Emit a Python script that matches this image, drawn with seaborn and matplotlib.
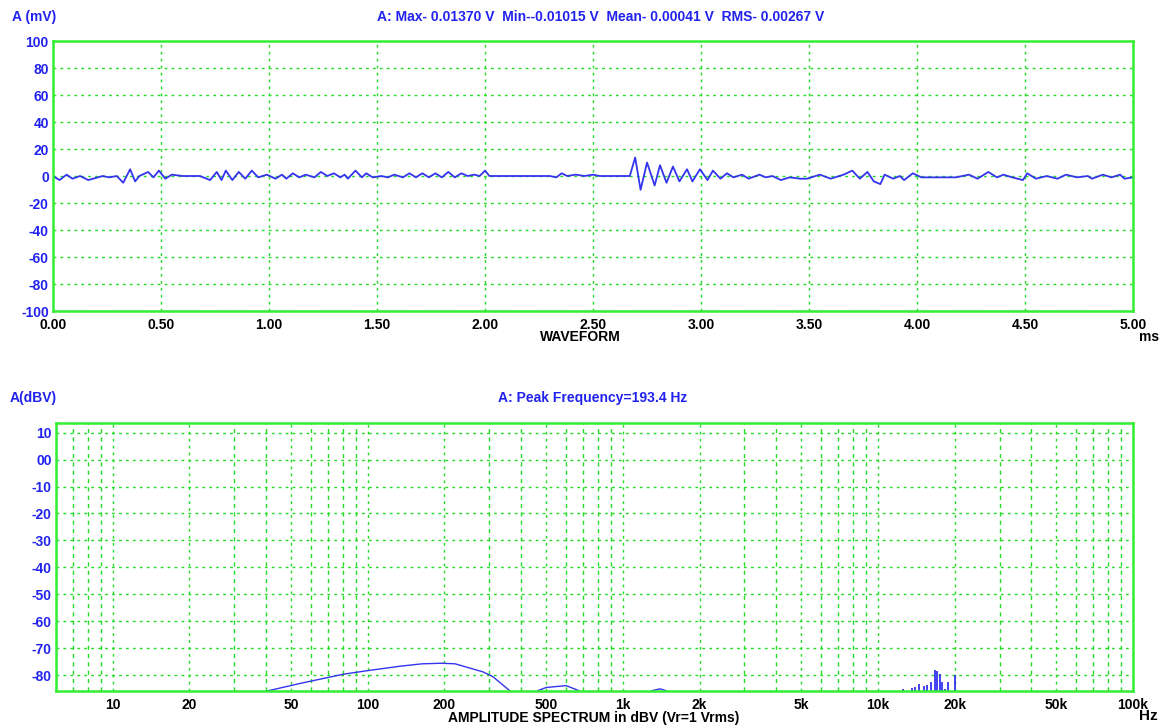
import numpy as np
import pandas as pd
import matplotlib
matplotlib.use("Agg")
from matplotlib import pyplot as plt
import seaborn as sns

# waveform (time in ms, amplitude in mV)
wave_t = [0.00, 0.03, 0.063, 0.09, 0.125, 0.163, 0.23, 0.26, 0.295, 0.325, 0.357, 0.38, 0.40,
          0.44, 0.465, 0.49, 0.52, 0.55, 0.60, 0.68, 0.727, 0.758, 0.78, 0.80, 0.83, 0.86,
          0.89, 0.92, 0.95, 0.99, 1.03, 1.06, 1.08, 1.11, 1.14, 1.17, 1.21, 1.24, 1.27,
          1.30, 1.33, 1.35, 1.365, 1.40, 1.43, 1.45, 1.48, 1.52, 1.55, 1.58, 1.62, 1.65,
          1.68, 1.71, 1.74, 1.77, 1.80, 1.83, 1.86, 1.89, 1.92, 1.95, 1.975, 2.00, 2.02,
          2.30, 2.33, 2.355, 2.38, 2.42, 2.46, 2.50, 2.53, 2.67, 2.695, 2.72, 2.75, 2.785,
          2.81, 2.84, 2.87, 2.90, 2.935, 2.96, 2.995, 3.03, 3.055, 3.09, 3.12, 3.15, 3.19,
          3.22, 3.27, 3.30, 3.33, 3.37, 3.41, 3.46, 3.49, 3.55, 3.60, 3.66, 3.70, 3.735,
          3.77, 3.80, 3.83, 3.85, 3.89, 3.92, 3.94, 3.98, 4.02, 4.10, 4.18, 4.24, 4.28,
          4.33, 4.37, 4.40, 4.44, 4.49, 4.51, 4.55, 4.60, 4.65, 4.69, 4.74, 4.79, 4.81,
          4.86, 4.90, 4.94, 4.96, 5.00]
wave_mv = [0, -3, 1, -2, 0, -3, 0, -1, 0, -5, 5, -4, 0,
           3, -1, 4, -2, 1, 0, 0, -3, 3, -3, 4, -3, 3,
           -2, 4, -1, 1, -2, 1, -2, 2, -1, 1, -1, 3, 0,
           2, -1, 1, -2, 4, -1, 2, -1, 0, -1, 1, -1, 2,
           -1, 2, -1, 2, -1, 3, -1, 2, 0, 1, 0, 4, 0,
           0, -1, 2, 0, 1, 0, 1, 0, 0, 13.7, -10.2, 10, -7,
           8, -5, 7, -4, 5, -4, 5, -3, 4, -2, 2, -1, 1,
           -2, 1, -1, 0, -3, -1, -2, -2, 1, -2, 1, 4, -2,
           3, -4, -6, 1, -2, 0, -3, 2, -1, -1, -1, 1, -2,
           3, -1, 1, -1, -3, 2, -2, 0, -2, 1, -1, 0, -2,
           1, -1, 1, -2, -1]

# amplitude spectrum (Hz, dBV)
spec_f = [38, 40.8, 54.3, 80, 99, 134, 164, 180, 193.4, 220, 283, 310, 339, 361, 370,
          455, 464, 501, 600, 674, 690, 1250, 1300, 1400, 1480, 1550]
spec_db = [-87, -85.8, -83.1, -79.7, -78.4, -76.7, -75.8, -75.7, -75.6, -75.8, -78.8, -80.6,
           -83.7, -85.8, -87, -87, -85.8, -84.6, -83.9, -85.8, -87, -87, -85.8, -85.1, -85.8, -87]
# high frequency spikes
spike_f = [12500, 13600, 14000, 14500, 15200, 15600, 16200, 16700, 17100, 17500, 17800, 18300, 18800, 20000]
spike_db = [-85.3, -84.8, -84.6, -83.3, -84.0, -83.5, -82.5, -78.0, -78.5, -79.6, -82.5, -85.0, -82.7, -80.0]

x_ticks = [0, 0.5, 1.0, 1.5, 2.0, 2.5, 3.0, 3.5, 4.0, 4.5, 5.0]
y_ticks = [-100, -80, -60, -40, -20, 0, 20, 40, 60, 80, 100]
f_ticks = [10, 20, 50, 100, 200, 500, 1000, 2000, 5000, 10000, 20000, 50000, 100000]
f_labels = ["10", "20", "50", "100", "200", "500", "1k", "2k", "5k", "10k", "20k", "50k", "100k"]
db_ticks = [10, 0, -10, -20, -30, -40, -50, -60, -70, -80]
db_labels = ["10", "00", "-10", "-20", "-30", "-40", "-50", "-60", "-70", "-80"]

sns.set_style("white")
plt.rcParams["font.family"] = ["Liberation Sans", "DejaVu Sans"]
plt.rcParams["font.weight"] = "bold"
plt.rcParams["axes.unicode_minus"] = False

GREEN = "#33ee33"
GRID = "#22dd22"
BLUE = "#2222ee"
LINE = "#3434ee"
FS = 10

fig = plt.figure(figsize=(11.68, 7.27), dpi=100)
ax1 = fig.add_axes([0.0454, 0.5722, 0.9247, 0.3714])
ax2 = fig.add_axes([0.0479, 0.0499, 0.9221, 0.3683])

wave = pd.DataFrame({"t": wave_t, "mv": wave_mv})
sns.lineplot(data=wave, x="t", y="mv", ax=ax1, color=LINE, lw=1.3, sort=False, estimator=None)
ax1.set_xlim(0, 5)
ax1.set_ylim(-100, 100)
ax1.set_xticks(x_ticks)
ax1.set_xticklabels([f"{v:.2f}" for v in x_ticks])
ax1.set_yticks(y_ticks)
ax1.set_xlabel("")
ax1.set_ylabel("")

spec = pd.DataFrame({"f": spec_f, "db": spec_db})
sns.lineplot(data=spec, x="f", y="db", ax=ax2, color=LINE, lw=1.0, sort=False, estimator=None)
ax2.vlines(spike_f, -86, spike_db, color=LINE, lw=1.3)
ax2.set_xscale("log")
ax2.set_xlim(6, 100000)
ax2.set_ylim(-85.8, 13.6)
ax2.set_xticks(f_ticks)
ax2.set_xticklabels(f_labels)
ax2.set_yticks(db_ticks)
ax2.set_yticklabels(db_labels)
ax2.set_xlabel("")
ax2.set_ylabel("")

for ax in (ax1, ax2):
    for s in ax.spines.values():
        s.set_color(GREEN)
        s.set_linewidth(1.8)
    ax.tick_params(length=0, labelsize=FS)
    ax.tick_params(axis="y", colors=BLUE, pad=3)
    ax.tick_params(axis="x", colors="black", pad=5)
    for lab in ax.get_xticklabels() + ax.get_yticklabels():
        lab.set_fontweight("bold")
    ax.set_axisbelow(True)
    ax.grid(True, which="major", color=GRID, ls=(0, (2, 3)), lw=1.0)

ax2.grid(True, which="minor", axis="x", color=GRID, ls=(0, (3, 3)), lw=1.0)
ax2.tick_params(which="minor", length=0)
ax2.xaxis.set_minor_formatter(matplotlib.ticker.NullFormatter())

# texts
fig.text(0.010, 0.976, "A (mV)", color=BLUE, fontsize=FS, fontweight="bold", ha="left", va="center")
fig.text(0.514, 0.976, "A: Max- 0.01370 V  Min--0.01015 V  Mean- 0.00041 V  RMS- 0.00267 V",
         color=BLUE, fontsize=FS, fontweight="bold", ha="center", va="center")
fig.text(0.497, 0.536, "WAVEFORM", color="black", fontsize=FS, fontweight="bold", ha="center", va="center")
fig.text(0.975, 0.536, "ms", color="black", fontsize=FS, fontweight="bold", ha="left", va="center")
fig.text(0.008, 0.453, "A(dBV)", color=BLUE, fontsize=FS, fontweight="bold", ha="left", va="center")
fig.text(0.507, 0.453, "A: Peak Frequency=193.4 Hz", color=BLUE, fontsize=FS, fontweight="bold",
         ha="center", va="center")
fig.text(0.508, 0.012, "AMPLITUDE SPECTRUM in dBV (Vr=1 Vrms)", color="black", fontsize=FS,
         fontweight="bold", ha="center", va="center")
fig.text(0.975, 0.015, "Hz", color="black", fontsize=FS + 1, fontweight="bold", ha="left", va="center")

fig.savefig("out.png", dpi=100)
